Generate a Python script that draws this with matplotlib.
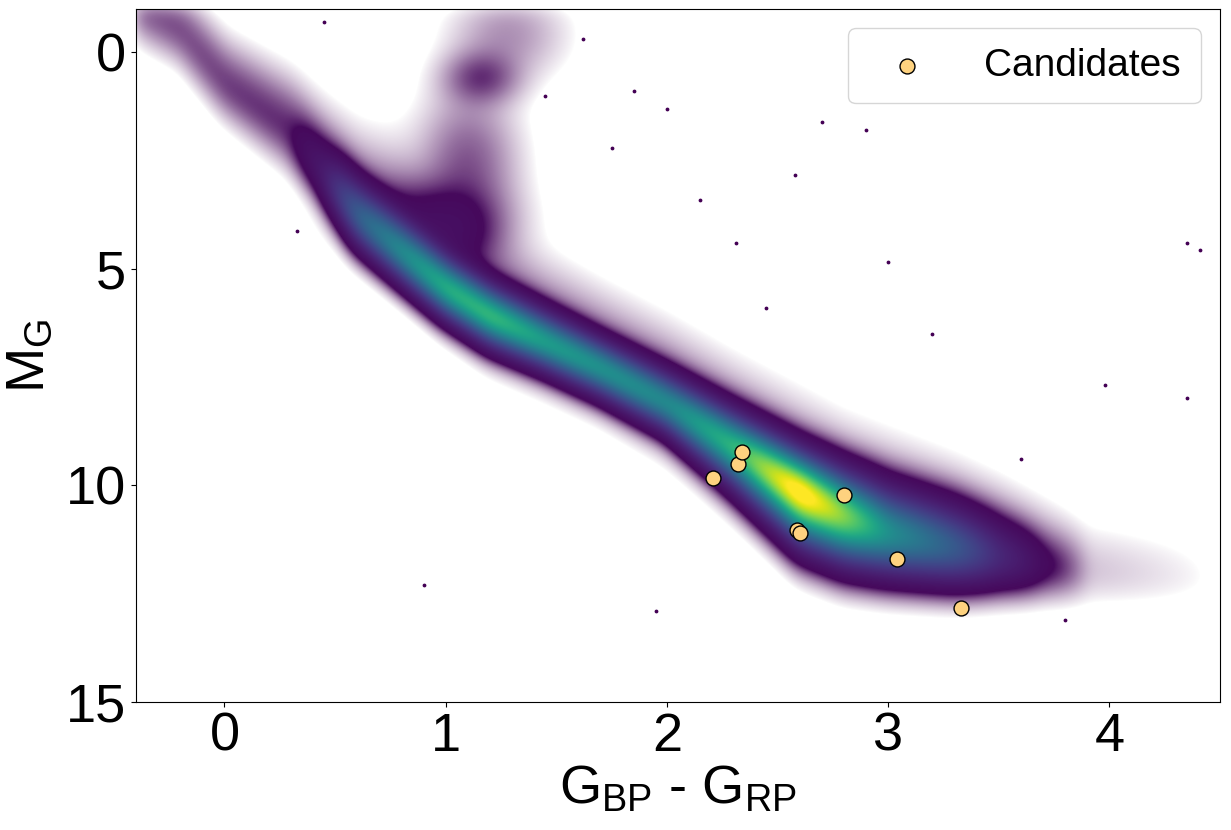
import numpy as np
import matplotlib
matplotlib.use("Agg")
import matplotlib.pyplot as plt

plt.rcParams['font.family'] = ['Liberation Sans', 'DejaVu Sans']
plt.rcParams['mathtext.default'] = 'regular'

# candidate stars (colour, absolute G magnitude)
cand_color = [2.21, 2.32, 2.34, 2.59, 2.60, 2.80, 3.04, 3.33]
cand_mag = [9.82, 9.50, 9.22, 11.04, 11.10, 10.23, 11.69, 12.82]

# main sequence ridge: colour knots, ridge magnitude,
# peak density (0..1), spread above/below the ridge for core and halo
ms_color = [-0.6, -0.2, 0.0, 0.3, 0.45, 0.6, 0.8, 1.0, 1.2, 1.45, 1.7, 2.0, 2.3, 2.6, 2.8, 3.0, 3.3, 3.5, 3.7, 3.9, 4.6]
ms_mag = [-1.6, -0.5, 0.75, 1.85, 2.8, 3.75, 4.6, 5.45, 6.1, 6.7, 7.3, 8.1, 9.1, 10.15, 10.7, 11.1, 11.45, 11.65, 11.85, 12.0, 12.2]
ms_peak = [0.0, 0.0, 0.0, 0.0, 0.06, 0.32, 0.52, 0.7, 0.75, 0.62, 0.57, 0.52, 0.7, 1.15, 0.85, 0.5, 0.28, 0.1, 0.02, 0.0, 0.0]
ms_core_up = [0.3, 0.3, 0.3, 0.35, 0.36, 0.38, 0.36, 0.34, 0.33, 0.32, 0.3, 0.32, 0.38, 0.45, 0.5, 0.52, 0.5, 0.45, 0.4, 0.4, 0.4]
ms_core_dn = [0.3, 0.3, 0.3, 0.3, 0.32, 0.36, 0.34, 0.32, 0.32, 0.3, 0.3, 0.32, 0.45, 0.58, 0.55, 0.5, 0.45, 0.4, 0.35, 0.3, 0.3]
ms_halo = [0.012, 0.016, 0.018, 0.02, 0.021, 0.022, 0.022, 0.022, 0.022, 0.02, 0.02, 0.02, 0.02, 0.02, 0.02, 0.02, 0.02, 0.018, 0.012, 0.004, 0.0]
ms_halo_up = [0.5, 0.5, 0.55, 0.65, 0.75, 0.9, 1.1, 1.1, 1.0, 0.9, 0.85, 0.85, 0.9, 1.0, 1.0, 1.0, 0.9, 0.8, 0.7, 0.6, 0.6]
ms_halo_dn = [0.4, 0.4, 0.4, 0.45, 0.45, 0.45, 0.45, 0.5, 0.55, 0.55, 0.55, 0.6, 0.7, 0.75, 0.7, 0.6, 0.5, 0.45, 0.4, 0.4, 0.4]

# giant branch / red clump / subgiant blobs: colour, mag, spread, density
blob_color = [1.16, 1.1, 0.92, 1.28, 1.05]
blob_mag = [0.6, 2.6, 3.8, -0.4, 4.2]
blob_sx = [0.1, 0.13, 0.2, 0.15, 0.12]
blob_sy = [0.35, 1.0, 0.5, 0.6, 0.5]
blob_amp = [0.018, 0.014, 0.016, 0.008, 0.016]

# isolated stars far from the sequences
out_color = [0.33, 2.31, 2.70, 2.58, 3.0, 4.35, 4.41, 4.35, 3.98, 2.15, 1.75, 3.6, 3.8, 2.9, 1.95, 0.9, 0.45,
             1.62, 1.85, 2.0, 1.45, 3.2, 2.45]
out_mag = [4.13, 4.41, 1.62, 2.84, 4.85, 4.41, 4.57, 7.99, 7.69, 3.4, 2.2, 9.4, 13.1, 1.8, 12.9, 12.3, -0.7,
           -0.3, 0.9, 1.3, 1.0, 6.5, 5.9]

fig = plt.figure(figsize=(12.31, 8.30), dpi=100)
ax = fig.add_axes([136 / 1231, 128 / 830, 1084 / 1231, 693 / 830])

xmin, xmax, ymin, ymax = -0.4, 4.5, -1.0, 15.0
gx = np.linspace(xmin, xmax, 1100)
gy = np.linspace(ymin, ymax, 700)
X, Y = np.meshgrid(gx, gy)

c = np.interp(X, ms_color, ms_mag)
a = np.interp(X, ms_color, ms_peak)
su = np.interp(X, ms_color, ms_core_up)
sd = np.interp(X, ms_color, ms_core_dn)
h = np.interp(X, ms_color, ms_halo)
hu = np.interp(X, ms_color, ms_halo_up)
hd = np.interp(X, ms_color, ms_halo_dn)

dy = Y - c
s_core = np.where(dy < 0, su, sd)
s_halo = np.where(dy < 0, hu, hd)
D = a * np.exp(-0.5 * (dy / s_core) ** 2) + h * np.exp(-0.5 * (dy / s_halo) ** 2)
for bx, by, sx, sy, am in zip(blob_color, blob_mag, blob_sx, blob_sy, blob_amp):
    D += am * np.exp(-0.5 * ((X - bx) / sx) ** 2 - 0.5 * ((Y - by) / sy) ** 2)

# soften the kinks between knots
k = np.exp(-0.5 * (np.arange(-20, 21) / 8.0) ** 2)
k /= k.sum()
D = np.apply_along_axis(lambda r: np.convolve(r, k, mode='same'), 1, D)
D = np.apply_along_axis(lambda r: np.convolve(r, k, mode='same'), 0, D)

cmap = plt.get_cmap('viridis')
rgba = cmap(np.clip(D, 0, 1))
rgba[..., 3] = np.clip((D - 0.001) / 0.022, 0, 1) ** 0.7
ax.imshow(rgba, extent=(xmin, xmax, ymax, ymin), origin='upper',
          aspect='auto', interpolation='bilinear', zorder=1)

ax.scatter(out_color, out_mag, s=3, color=cmap(0.0), zorder=2)

ax.scatter(cand_color, cand_mag, s=115, color='#fed27f', edgecolor='black',
           linewidth=1.0, zorder=3, label='Candidates')

ax.set_xlim(xmin, xmax)
ax.set_ylim(ymax, ymin)
ax.set_xticks([0, 1, 2, 3, 4])
ax.set_yticks([0, 5, 10, 15])
ax.tick_params(labelsize=39)
ax.set_xlabel('G$_{BP}$ - G$_{RP}$', fontsize=39, labelpad=2)
ax.set_ylabel('M$_{G}$', fontsize=39, labelpad=8)
ax.legend(loc='upper right', fontsize=28, borderpad=0.5, handletextpad=1.0)

fig.savefig('out.png', dpi=100)
